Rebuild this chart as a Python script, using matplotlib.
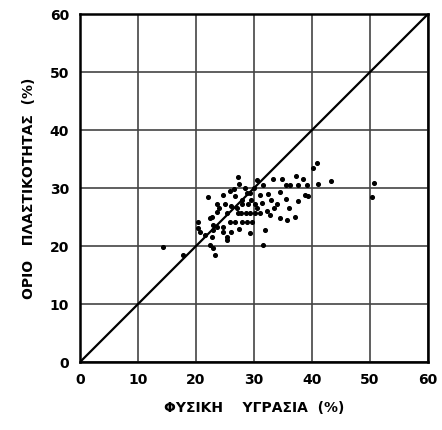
import matplotlib
matplotlib.use("Agg")
import matplotlib.pyplot as plt

# natural moisture (%) vs plastic limit (%)
moisture = [14.3, 17.8, 20.3, 20.3, 20.7, 22.0, 22.4, 22.4, 22.9, 23.3,
            22.8, 23.6, 23.6, 24.7, 25.0, 25.3, 24.7, 25.3, 25.3, 25.9,
            26.7, 27.2, 27.4, 27.9, 27.2, 27.8, 28.6, 28.8, 29.3, 29.0,
            29.3, 30.2, 30.2, 30.5, 31.0, 31.4, 31.0, 32.2, 32.8, 32.4,
            33.3, 34.8, 34.5, 34.0, 34.5, 35.7, 35.5, 36.2, 37.1, 37.2,
            37.6, 37.6, 38.8, 39.3, 39.1, 40.2, 40.9, 41.0, 43.3, 50.7,
            50.3, 29.3, 31.9, 31.6, 22.8, 22.9, 23.6, 24.7, 25.9, 26.7,
            27.9, 28.8, 29.7, 28.0, 29.5, 30.5, 27.0, 26.0, 28.5, 30.0,
            33.0, 36.0, 26.0, 27.5, 21.5, 23.0, 33.5, 31.5, 35.5, 38.5,
            26.5, 24.0]
plastic_limit = [19.8, 18.4, 24.1, 23.1, 22.5, 28.4, 24.8, 20.2, 19.7, 18.4,
                 21.6, 27.2, 25.9, 28.8, 27.2, 25.7, 22.4, 21.6, 21.0, 29.5,
                 28.6, 31.9, 30.7, 27.2, 25.7, 25.7, 25.7, 29.1, 29.1, 27.2,
                 25.7, 27.2, 25.7, 31.4, 28.8, 27.4, 25.7, 26.0, 25.3, 29.0,
                 31.5, 31.5, 29.3, 27.2, 24.8, 24.5, 28.1, 30.5, 25.0, 32.1,
                 30.5, 27.8, 28.8, 28.6, 30.5, 33.4, 34.3, 30.7, 31.2, 30.9,
                 28.4, 22.2, 22.8, 20.2, 25.0, 23.6, 23.3, 23.3, 24.1, 24.1,
                 24.1, 24.1, 24.1, 28.0, 28.0, 26.5, 26.5, 27.0, 30.0, 30.0,
                 28.0, 26.5, 22.5, 23.0, 22.0, 22.8, 26.5, 30.5, 30.5, 31.5,
                 29.8, 26.5]
ticks = [0, 10, 20, 30, 40, 50, 60]

fig = plt.figure(figsize=(4.42, 4.30), dpi=100)
ax = fig.add_axes([0.181, 0.158, 0.787, 0.809])

ax.plot([0, 60], [0, 60], color="black", lw=1.6, zorder=2)
ax.scatter(moisture, plastic_limit, s=7, color="black", zorder=3)

ax.set_xlim(0, 60)
ax.set_ylim(0, 60)
ax.set_xticks(ticks)
ax.set_yticks(ticks)
ax.grid(True, color="#444444", lw=1.2)
ax.set_axisbelow(True)
for sp in ax.spines.values():
    sp.set_linewidth(1.8)
ax.tick_params(length=0, labelsize=10, pad=8)
for lab in ax.get_xticklabels() + ax.get_yticklabels():
    lab.set_fontweight("bold")

ax.set_xlabel("ΦΥΣΙΚΗ    ΥΓΡΑΣΙΑ  (%)", fontsize=10, fontweight="bold", labelpad=10)
ax.set_ylabel("ΟΡΙΟ   ΠΛΑΣΤΙΚΟΤΗΤΑΣ  (%)", fontsize=10, fontweight="bold", labelpad=10)

plt.savefig("out.png")
plt.close()
